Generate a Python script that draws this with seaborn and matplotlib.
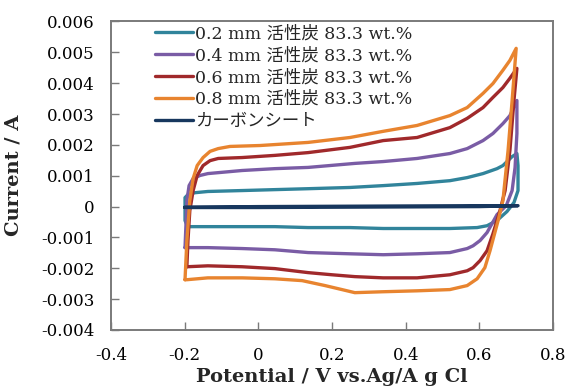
import matplotlib
matplotlib.use("Agg")
import matplotlib.pyplot as plt
import seaborn as sns
import pandas as pd

# Cyclic voltammograms: potential (V vs. Ag/AgCl) and current (mA), one closed loop per sample
samples = ["0.2 mm 活性炭 83.3 wt.%", "0.4 mm 活性炭 83.3 wt.%",
           "0.6 mm 活性炭 83.3 wt.%", "0.8 mm 活性炭 83.3 wt.%", "カーボンシート"]
colors = ["#31849B", "#7A5CA5", "#A0292B", "#E8842F", "#17375E"]

v_02 = [-0.191, -0.199, -0.199, -0.191, -0.172, -0.137, -0.044, 0.045, 0.135, 0.249, 0.339,
        0.431, 0.520, 0.567, 0.610, 0.648, 0.664, 0.689, 0.702,
        0.705, 0.705, 0.694, 0.675, 0.648, 0.621, 0.594, 0.520, 0.431, 0.339, 0.249, 0.135,
        0.045, -0.044, -0.137, -0.185, -0.191]
i_02 = [-0.68, -0.45, 0.29, 0.39, 0.45, 0.49, 0.52, 0.55, 0.58, 0.62, 0.68,
        0.75, 0.84, 0.94, 1.07, 1.23, 1.33, 1.62, 1.72,
        1.33, 0.52, 0.13, -0.16, -0.45, -0.62, -0.68, -0.71, -0.71, -0.71, -0.68, -0.68,
        -0.65, -0.65, -0.65, -0.65, -0.68]

v_04 = [-0.199, -0.196, -0.194, -0.188, -0.177, -0.158, -0.137, -0.044, 0.045, 0.135, 0.262,
        0.339, 0.431, 0.520, 0.567, 0.610, 0.637, 0.664, 0.683, 0.702,
        0.702, 0.697, 0.689, 0.673, 0.648, 0.621, 0.602, 0.583, 0.567, 0.520, 0.431, 0.339,
        0.249, 0.135, 0.045, -0.044, -0.137, -0.194, -0.199]
i_04 = [-1.33, -0.45, 0.19, 0.68, 0.91, 1.01, 1.07, 1.17, 1.23, 1.27, 1.40,
        1.46, 1.56, 1.72, 1.88, 2.14, 2.37, 2.69, 2.95, 3.44,
        2.37, 1.27, 0.52, 0.03, -0.26, -0.84, -1.10, -1.27, -1.36, -1.49, -1.53, -1.56,
        -1.53, -1.49, -1.40, -1.36, -1.33, -1.33, -1.33]

v_06 = [-0.194, -0.191, -0.186, -0.177, -0.166, -0.150, -0.131, -0.109, -0.044, 0.045, 0.135,
        0.249, 0.339, 0.431, 0.520, 0.567, 0.610, 0.637, 0.664, 0.683, 0.702,
        0.694, 0.683, 0.670, 0.656, 0.637, 0.621, 0.602, 0.583, 0.567, 0.520, 0.431, 0.339,
        0.262, 0.200, 0.135, 0.045, -0.044, -0.137, -0.194]
i_06 = [-1.95, -1.10, -0.13, 0.52, 1.01, 1.33, 1.49, 1.56, 1.59, 1.66, 1.75,
        1.92, 2.14, 2.24, 2.56, 2.86, 3.21, 3.54, 3.86, 4.16, 4.48,
        3.44, 1.82, 0.52, -0.13, -0.88, -1.43, -1.75, -1.98, -2.08, -2.21, -2.31, -2.31,
        -2.27, -2.21, -2.14, -2.01, -1.95, -1.92, -1.95]

v_08 = [-0.199, -0.194, -0.186, -0.177, -0.166, -0.150, -0.131, -0.109, -0.077, 0.005, 0.135,
        0.249, 0.339, 0.431, 0.520, 0.567, 0.610, 0.637, 0.664, 0.683, 0.700,
        0.689, 0.678, 0.664, 0.651, 0.629, 0.615, 0.594, 0.567, 0.520, 0.431, 0.339, 0.262,
        0.227, 0.181, 0.119, 0.045, -0.044, -0.137, -0.194, -0.199]
i_08 = [-2.37, -1.10, 0.19, 0.91, 1.33, 1.59, 1.79, 1.88, 1.95, 1.98, 2.08,
        2.24, 2.44, 2.63, 2.95, 3.21, 3.67, 3.99, 4.42, 4.74, 5.13,
        3.44, 1.82, 0.19, -0.45, -1.43, -1.98, -2.34, -2.56, -2.69, -2.73, -2.76, -2.79,
        -2.69, -2.56, -2.40, -2.34, -2.31, -2.31, -2.37, -2.37]

v_cs = [-0.200, 0.000, 0.200, 0.400, 0.600, 0.705, 0.600, 0.400, 0.200, 0.000, -0.200]
i_cs = [-0.02, 0.00, 0.01, 0.02, 0.03, 0.03, 0.00, -0.01, -0.02, -0.03, -0.03]

x_ticks = [-0.4, -0.2, 0.0, 0.2, 0.4, 0.6, 0.8]
x_tick_labels = ["-0.4", "-0.2", "0", "0.2", "0.4", "0.6", "0.8"]
y_ticks = [-0.004, -0.003, -0.002, -0.001, 0.0, 0.001, 0.002, 0.003, 0.004, 0.005, 0.006]
y_tick_labels = ["-0.004", "-0.003", "-0.002", "-0.001", "0", "0.001", "0.002",
                 "0.003", "0.004", "0.005", "0.006"]

frames = []
for name, v, i in zip(samples, [v_02, v_04, v_06, v_08, v_cs], [i_02, i_04, i_06, i_08, i_cs]):
    frames.append(pd.DataFrame({"Potential": v, "Current": [c * 1e-3 for c in i], "Sample": name}))
df = pd.concat(frames, ignore_index=True)

sns.set_theme(style="white")
plt.rcParams["font.family"] = ["DejaVu Serif", "Noto Sans CJK JP"]
plt.rcParams["axes.unicode_minus"] = False

fig = plt.figure(figsize=(5.68, 3.88), dpi=100)
ax = fig.add_axes([0.1954, 0.1495, 0.7782, 0.7951])

sns.lineplot(data=df, x="Potential", y="Current", hue="Sample", hue_order=samples,
             palette=colors, sort=False, estimator=None, linewidth=2.4, ax=ax,
             solid_capstyle="round", solid_joinstyle="round")

ax.set_xlim(-0.4, 0.8)
ax.set_ylim(-0.004, 0.006)
ax.set_xticks(x_ticks, x_tick_labels)
ax.set_yticks(y_ticks, y_tick_labels)

spine_color = "#7a7a7a"
for s in ax.spines.values():
    s.set_color(spine_color)
    s.set_linewidth(1.4)
ax.tick_params(axis="both", direction="in", length=6, width=1.0, color=spine_color,
               labelsize=12, pad=12, labelcolor="black")
ax.tick_params(axis="x", bottom=True, top=False)
ax.tick_params(axis="y", left=True, right=False)

ax.set_xlabel("Potential / V vs.Ag/A g Cl", fontsize=14, fontweight="bold")
ax.set_ylabel("Current / A", fontsize=14, fontweight="bold")
ax.xaxis.set_label_coords(0.5, -0.122)
ax.yaxis.set_label_coords(-0.201, 0.5)

handles, labels = ax.get_legend_handles_labels()
ax.legend(handles, labels, loc="upper left", bbox_to_anchor=(0.0995, 0.987),
          frameon=False, fontsize=12.5, handlelength=2.2, handletextpad=0.1,
          labelspacing=0.28, borderpad=0, borderaxespad=0)

fig.savefig("out.png", dpi=100)
